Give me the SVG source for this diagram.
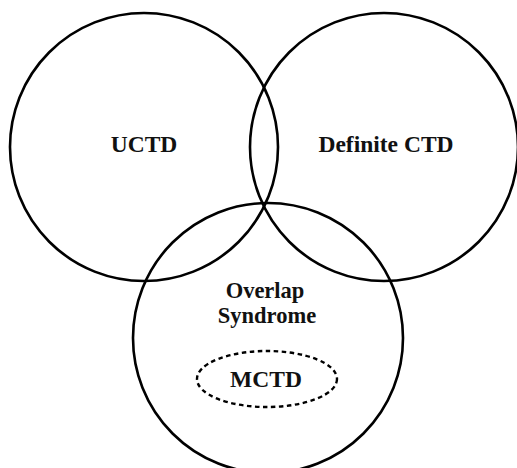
<svg xmlns="http://www.w3.org/2000/svg" width="517" height="468" viewBox="0 0 517 468">
<style>
.c{fill:none;stroke:#000;stroke-width:2.6}
.d{fill:none;stroke:#000;stroke-width:2.4;stroke-dasharray:4.5 3.5}
.t{font-family:"Liberation Serif",serif;font-weight:bold;font-size:23.5px;fill:#111;text-anchor:middle}
.s{font-size:22.5px}
</style>
<rect width="517" height="468" fill="#fff"/>
<g id="uctd"><circle class="c" cx="144" cy="147" r="134"/><text class="t" x="144" y="152">UCTD</text></g>
<g id="definite-ctd"><circle class="c" cx="384" cy="147" r="134"/><text class="t" x="386" y="152">Definite CTD</text></g>
<g id="overlap"><circle class="c" cx="268" cy="338" r="135"/><text class="t s" x="265" y="297.5">Overlap</text><text class="t s" x="267" y="322.5">Syndrome</text></g>
<g id="mctd"><ellipse class="d" cx="267" cy="379" rx="70" ry="28"/><text class="t" x="266" y="387">MCTD</text></g>
<g id="connectors"></g>
</svg>
